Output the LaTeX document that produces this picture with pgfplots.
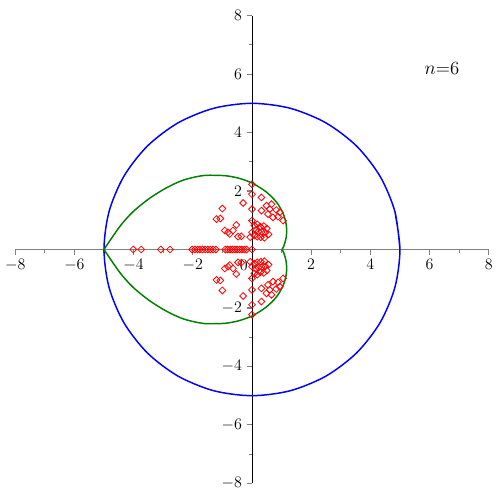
\documentclass[border=0pt]{standalone}
\usepackage{pgfplots}
\pgfplotsset{compat=1.18}
\begin{document}
\begin{tikzpicture}
\useasboundingbox (-11.4pt,-12.45pt) rectangle (363.6pt,362.6pt);
\begin{axis}[
  scale only axis, width=355.2pt, height=350.9pt,
  xmin=-8,xmax=8,ymin=-8,ymax=8,
  axis lines=middle, axis line style={-},
  x axis line style={gray, line width=1.2pt},
  y axis line style={black, line width=0.7pt},
  xtick={-8,-6,-4,-2,2,4,6,8},
  ytick={-8,-6,-4,-2,2,4,6,8},
  minor xtick={-7,-5,-3,-1,1,3,5,7}, minor ytick={-7,-5,-3,-1,1,3,5,7},
  tick align=outside, major tick length=4pt, minor tick length=2.5pt,
  tick style={gray, line width=0.8pt},
  tick label style={font=\fontsize{11.5}{13}\selectfont},
  clip=false,
]
\addplot[blue, line width=1.1pt, smooth] coordinates {
(5,0)(4.830,1.294)(4.330,2.5)(3.536,3.536)(2.5,4.330)(1.294,4.830)(0,5)
(-1.294,4.830)(-2.5,4.330)(-3.536,3.536)(-4.330,2.5)(-4.830,1.294)(-5,0)
(-4.830,-1.294)(-4.330,-2.5)(-3.536,-3.536)(-2.5,-4.330)(-1.294,-4.830)(0,-5)
(1.294,-4.830)(2.5,-4.330)(3.536,-3.536)(4.330,-2.5)(4.830,-1.294)(5,0)(4.830,1.294)};
\addplot[green!50!black, line width=1.1pt, smooth] coordinates {
(-5,0)(-4.47,0.78)(-4.02,1.29)(-3.46,1.75)(-2.89,2.11)(-2.33,2.37)(-1.77,2.51)(-1.43,2.54)
(-0.87,2.52)(-0.42,2.43)(0.03,2.26)(0.48,1.97)(0.82,1.63)(1.05,1.24)(1.16,0.84)(1.16,0.44)(1.07,0.10)(1.01,0)};
\addplot[green!50!black, line width=1.1pt, smooth] coordinates {
(-5,0)(-4.47,-0.78)(-4.02,-1.29)(-3.46,-1.75)(-2.89,-2.11)(-2.33,-2.37)(-1.77,-2.51)(-1.43,-2.54)
(-0.87,-2.52)(-0.42,-2.43)(0.03,-2.26)(0.48,-1.97)(0.82,-1.63)(1.05,-1.24)(1.16,-0.84)(1.16,-0.44)(1.07,-0.10)(1.01,0)};
\addplot[only marks, red, mark=square, mark size=1.8pt, mark options={rotate=45, line width=0.6pt}] coordinates {
(-4.01,0)(-3.74,0)(-3.08,0)(-2.77,0)(-2.02,0)(-1.93,0)(-1.84,0)(-1.76,0)(-1.67,0)(-1.58,0)(-1.49,0)(-1.40,0)(-1.31,0)(-1.22,0)
(-0.90,0)(-0.82,0)(-0.74,0)(-0.66,0)(-0.58,0)(-0.50,0)(-0.42,0)(-0.34,0)(-0.26,0)(-0.18,0)(0,0)
(0,2.23)(0,1.89)(0,1.38)(0,0.99)(0,0.59)
(-0.3,1.59)(0.32,1.78)(-1.0,1.4)(-1.2,1.04)(-1.07,1.06)(-0.53,0.84)
(-0.92,0.65)(-0.81,0.59)(-0.75,0.53)(-0.64,0.65)(-0.47,0.44)(-0.36,0.45)
(0.49,1.5)(0.66,1.55)(0.6,1.38)(0.82,1.35)(0.94,1.27)(0.32,1.33)(0.54,1.21)(0.71,1.1)(0.88,1.12)(1.05,0.99)
(0.08,0.82)(0.18,0.86)(0.28,0.78)(0.4,0.8)(0.5,0.72)(0.12,0.66)(0.22,0.62)(0.33,0.6)(0.45,0.58)(0.56,0.52)
(0.08,0.48)(0.18,0.44)(0.3,0.42)(0.42,0.4)(-0.06,0.42)
(0,-2.23)(0,-1.89)(0,-1.38)(0,-0.99)(0,-0.59)
(-0.3,-1.59)(0.32,-1.78)(-1.0,-1.4)(-1.2,-1.04)(-1.07,-1.06)(-0.53,-0.84)
(-0.92,-0.65)(-0.81,-0.59)(-0.75,-0.53)(-0.64,-0.65)(-0.47,-0.44)(-0.36,-0.45)
(0.49,-1.5)(0.66,-1.55)(0.6,-1.38)(0.82,-1.35)(0.94,-1.27)(0.32,-1.33)(0.54,-1.21)(0.71,-1.1)(0.88,-1.12)(1.05,-0.99)
(0.08,-0.82)(0.18,-0.86)(0.28,-0.78)(0.4,-0.8)(0.5,-0.72)(0.12,-0.66)(0.22,-0.62)(0.33,-0.6)(0.45,-0.58)(0.56,-0.52)
(0.08,-0.48)(0.18,-0.44)(0.3,-0.42)(0.42,-0.4)(-0.06,-0.42)};
\node[font=\fontsize{11.5}{13}\selectfont] at (axis cs:-0.28,-0.55) {$0$};
\node[font=\fontsize{14}{16}\selectfont] at (axis cs:6.42,6.18) {$n$=6};
\end{axis}
\end{tikzpicture}
\end{document}
